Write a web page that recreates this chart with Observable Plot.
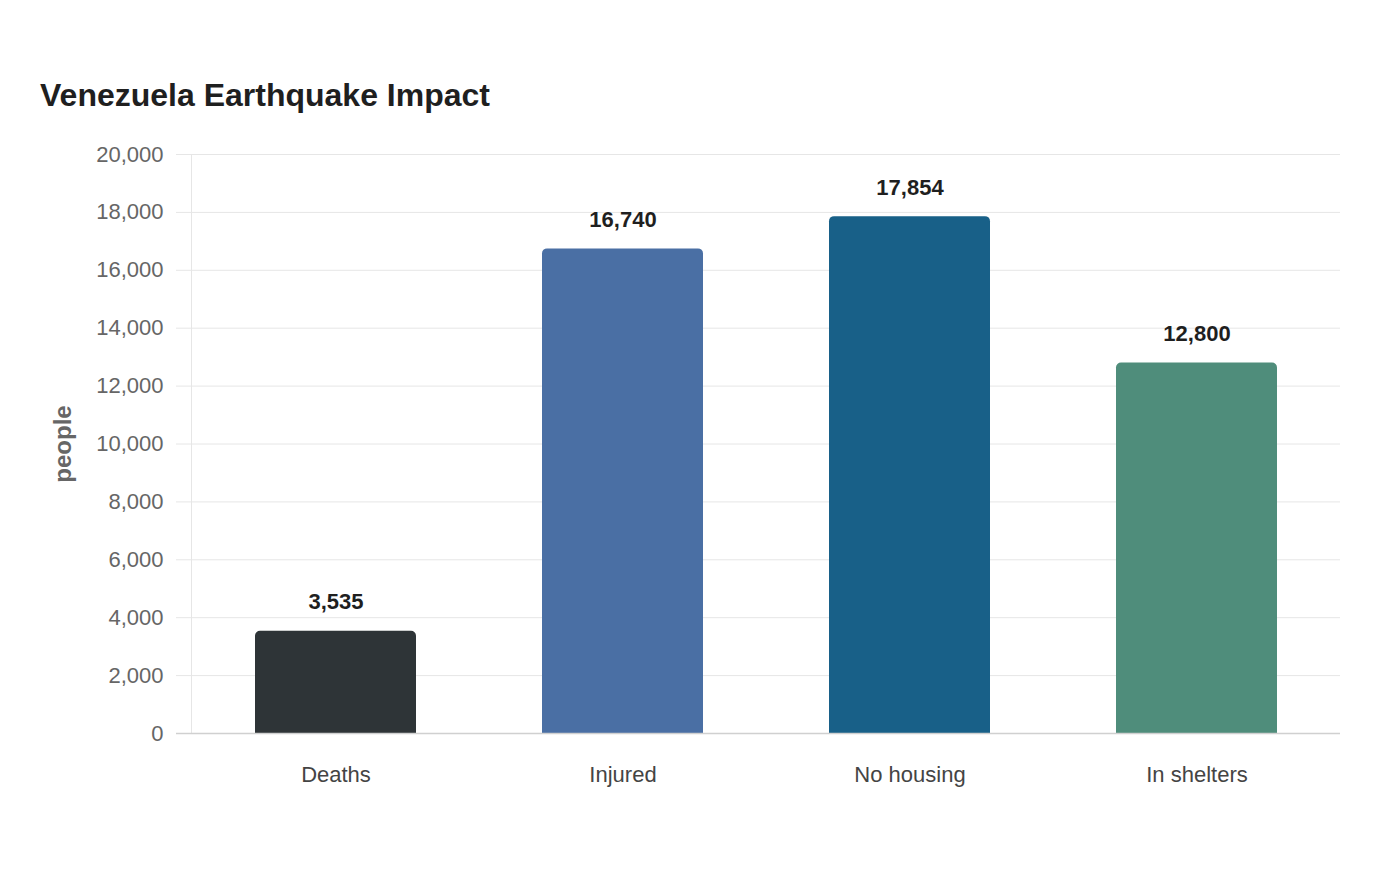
<!DOCTYPE html>
<html>
<head>
<meta charset="utf-8">
<script src="https://cdn.jsdelivr.net/npm/d3@7"></script>
<script src="https://cdn.jsdelivr.net/npm/@observablehq/plot@0.6"></script>
<style>
  html, body { margin: 0; padding: 0; background: #fff; }
  body { width: 1400px; height: 880px; position: relative; font-family: "Liberation Sans", Arial, sans-serif; }
  #title { position: absolute; left: 40px; top: 75px; font-size: 32px; font-weight: bold; color: #1f1f1f; line-height: 40px; }
  #chart { position: absolute; left: 0; top: 130px; }
</style>
</head>
<body>
<div id="title">Venezuela Earthquake Impact</div>
<div id="chart"></div>
<script>
const categories = ["Deaths", "Injured", "No housing", "In shelters"];
const values = [3535, 16740, 17854, 12800];
const colors = ["#2e3437", "#4a6fa4", "#186088", "#4f8d7b"];
const yTicks = [0, 2000, 4000, 6000, 8000, 10000, 12000, 14000, 16000, 18000, 20000];

const data = categories.map((c, i) => ({category: c, value: values[i]}));
const fmt = d3.format(",");

const chart = Plot.plot({
  width: 1400,
  height: 700,
  marginTop: 24,
  marginBottom: 97,
  marginLeft: 191,
  marginRight: 60,
  style: {fontFamily: "Liberation Sans, Arial, sans-serif", background: "white"},
  x: {domain: categories, paddingInner: 0.44, paddingOuter: 0.22, label: null},
  y: {domain: [0, 20000], label: null},
  color: {domain: categories, range: colors},
  marks: [
    Plot.gridY(yTicks, {stroke: "#e6e6e6", strokeOpacity: 1}),
    Plot.frame({anchor: "left", stroke: "#e6e6e6"}),
    Plot.axisY(yTicks, {tickSize: 15, tickPadding: 13, stroke: "#e6e6e6", fontSize: 22, fill: "#666", tickFormat: fmt, label: null}),
    Plot.axisY([0], {tickSize: 15, tickPadding: 13, stroke: "#d0d0d0", strokeWidth: 1.5, tickFormat: () => "", label: null}),
    Plot.axisX({tickSize: 0, tickPadding: 33, fontSize: 22, fill: "#444", label: null}),
    Plot.barY(data, {x: "category", y: "value", fill: "category", rx1y1: 5, rx2y1: 5}),
    Plot.ruleY([0], {stroke: "#d0d0d0", strokeWidth: 1.5}),
    Plot.text(data, {x: "category", y: "value", text: d => fmt(d.value), dy: -29, lineAnchor: "middle", fontSize: 22, fontWeight: "bold", fill: "#1f1f1f"}),
    Plot.text(["people"], {frameAnchor: "left", dx: -128, rotate: -90, text: d => d, fontSize: 24, fontWeight: "bold", fill: "#666", lineAnchor: "middle", textAnchor: "middle"})
  ]
});
document.getElementById("chart").appendChild(chart);
</script>
</body>
</html>
